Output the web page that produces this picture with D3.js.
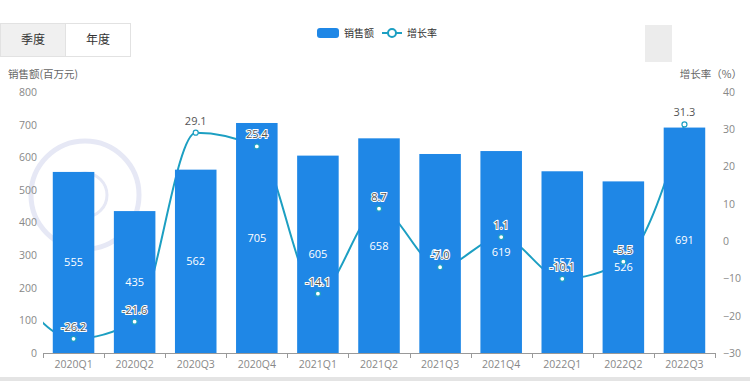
<!DOCTYPE html>
<html><head><meta charset="utf-8">
<script src="https://cdn.jsdelivr.net/npm/d3@7"></script>
<style>
body{margin:0;background:#fff;}
svg{display:block;font-family:"Noto Sans CJK SC","Noto Sans",sans-serif;}
</style></head>
<body>
<svg id="c" width="750" height="381"></svg>
<script>
const categories = ["2020Q1","2020Q2","2020Q3","2020Q4","2021Q1","2021Q2","2021Q3","2021Q4","2022Q1","2022Q2","2022Q3"];
const sales = [555,435,562,705,605,658,610,619,557,526,691];
const growth = [-26.2,-21.6,29.1,25.4,-14.1,8.7,-7.0,1.1,-10.1,-5.5,31.3];
const prevGrowth = -12.5; // preceding quarter (line enters from the left edge)
const leftTicks = [0,100,200,300,400,500,600,700,800];
const rightTicks = [-30,-20,-10,0,10,20,30,40];

const svg = d3.select("#c");
const L = 43, R = 715, T = 92, B = 353;
const barColor = "#1f87e6", lineColor = "#1c9fc2";

const x = d3.scaleBand().domain(categories).range([L,R]).paddingInner(0.32).paddingOuter(0.16);
const yL = d3.scaleLinear().domain([0,800]).range([B,T]);
const yR = d3.scaleLinear().domain([-30,40]).range([B,T]);

// faint watermark logo
const wm = svg.append("g").attr("stroke","#e6e8f5").attr("fill","none").attr("stroke-width",5);
wm.append("circle").attr("cx",85).attr("cy",195).attr("r",54);
wm.append("circle").attr("cx",85).attr("cy",195).attr("r",22).attr("stroke-width",3);

// top-left button group
const bg = svg.append("g");
bg.append("rect").attr("x",0.5).attr("y",23.5).attr("width",130).attr("height",33).attr("fill","#fff").attr("stroke","#e2e2e2");
bg.append("rect").attr("x",1).attr("y",24).attr("width",64).attr("height",32).attr("fill","#f0f0f0");
bg.append("line").attr("x1",65.5).attr("x2",65.5).attr("y1",24).attr("y2",56).attr("stroke","#e2e2e2");
bg.append("text").attr("x",33).attr("y",44).attr("text-anchor","middle").attr("font-size",12).attr("fill","#333").text("季度");
bg.append("text").attr("x",98).attr("y",44).attr("text-anchor","middle").attr("font-size",12).attr("fill","#333").text("年度");

// top-right grey square
svg.append("rect").attr("x",645).attr("y",25).attr("width",27).attr("height",37).attr("fill","#ececec");

// legend
const lg = svg.append("g");
lg.append("rect").attr("x",317).attr("y",28).attr("width",22).attr("height",10).attr("rx",3).attr("fill",barColor);
lg.append("text").attr("x",344).attr("y",37).attr("font-size",10).attr("fill","#333").text("销售额");
lg.append("line").attr("x1",382).attr("x2",402).attr("y1",33).attr("y2",33).attr("stroke",lineColor).attr("stroke-width",2);
lg.append("circle").attr("cx",392).attr("cy",33).attr("r",4).attr("fill","#fff").attr("stroke",lineColor).attr("stroke-width",2);
lg.append("text").attr("x",407).attr("y",37).attr("font-size",10).attr("fill","#333").text("增长率");

// axis titles
svg.append("text").attr("x",8).attr("y",78).attr("font-size",10.5).attr("fill","#666").text("销售额(百万元)");
svg.append("text").attr("x",742).attr("y",78).attr("text-anchor","end").attr("font-size",10.5).attr("fill","#666").text("增长率（%）");

// left axis labels
svg.append("g").attr("transform",`translate(${L},0)`)
  .call(d3.axisLeft(yL).tickValues(leftTicks).tickSize(0).tickPadding(6))
  .call(g=>g.select(".domain").remove())
  .call(g=>g.selectAll("text").attr("fill","#888").attr("font-size",10.5).attr("font-family","'Open Sans',sans-serif"));
// right axis labels
svg.append("g").attr("transform",`translate(${R},0)`)
  .call(d3.axisRight(yR).tickValues(rightTicks).tickSize(0).tickPadding(8))
  .call(g=>g.select(".domain").remove())
  .call(g=>g.selectAll("text").attr("fill","#888").attr("font-size",10.5).attr("font-family","'Open Sans',sans-serif"));

// line (drawn behind bars), clipped to plot area
svg.append("clipPath").attr("id","clip").append("rect").attr("x",L).attr("y",0).attr("width",R-L).attr("height",B);
const step = x.step();
const linePts = [[x(categories[0])+x.bandwidth()/2-step, yR(prevGrowth)]]
  .concat(categories.map((c,i)=>[x(c)+x.bandwidth()/2, yR(growth[i])]));
svg.append("path").attr("clip-path","url(#clip)")
  .attr("d", d3.line().curve(d3.curveMonotoneX)(linePts))
  .attr("fill","none").attr("stroke",lineColor).attr("stroke-width",2);

// bars
svg.append("g").selectAll("rect").data(categories).join("rect")
  .attr("x",c=>x(c)).attr("width",x.bandwidth())
  .attr("y",(c,i)=>yL(sales[i])).attr("height",(c,i)=>B-yL(sales[i]))
  .attr("fill",barColor);

// bar labels
svg.append("g").selectAll("text").data(categories).join("text")
  .attr("x",c=>x(c)+x.bandwidth()/2)
  .attr("y",(c,i)=>(yL(sales[i])+B)/2+4)
  .attr("text-anchor","middle").attr("font-size",11).attr("fill","#fff")
  .attr("font-family","'Open Sans',sans-serif")
  .text((c,i)=>sales[i]);

// x axis
svg.append("g").attr("transform",`translate(0,${B})`)
  .call(d3.axisBottom(x).tickSize(0).tickPadding(8))
  .call(g=>g.select(".domain").attr("stroke","#999"))
  .call(g=>g.selectAll("text").attr("fill","#888").attr("font-size",10.5).attr("font-family","'Open Sans',sans-serif"));
svg.append("g").selectAll("line").data(categories.concat([null])).join("line")
  .attr("x1",(c,i)=>Math.round(L+step*0.16*0+ (i===0?0:0) + x.step()*i - (i===0?0:0))+0.5)
  .attr("x2",(c,i)=>Math.round(L + x.step()*i)+0.5)
  .attr("y1",B).attr("y2",B+5).attr("stroke","#999");

// markers
svg.append("g").selectAll("circle").data(categories).join("circle")
  .attr("cx",c=>x(c)+x.bandwidth()/2).attr("cy",(c,i)=>yR(growth[i]))
  .attr("r",2.5).attr("fill","#fff").attr("stroke",lineColor).attr("stroke-width",1.2);

// growth labels
svg.append("g").selectAll("text").data(categories).join("text")
  .attr("x",c=>x(c)+x.bandwidth()/2)
  .attr("y",(c,i)=>yR(growth[i])-8)
  .attr("text-anchor","middle").attr("font-size",11).attr("fill","#555")
  .attr("stroke","#fff").attr("stroke-width",2).attr("paint-order","stroke")
  .attr("font-family","'Open Sans',sans-serif")
  .text((c,i)=>growth[i].toFixed(1));

// bottom separator
svg.append("rect").attr("x",0).attr("y",377).attr("width",750).attr("height",4).attr("fill","#e4e4e4");
</script>
</body></html>
